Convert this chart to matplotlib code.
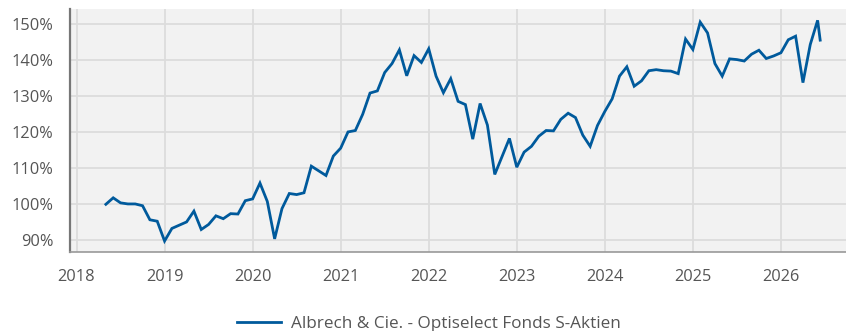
import matplotlib
matplotlib.use("Agg")
import matplotlib.pyplot as plt
from matplotlib.ticker import FuncFormatter

plt.rcParams['font.family'] = ['Open Sans', 'DejaVu Sans']

# monthly performance, starting May 2018 (indexed to 100%)
start_year = 2018
start_month = 5
values = [
    100.0, 101.8, 100.4, 100.1, 100.1, 99.6, 95.7, 95.3, 89.8, 93.3,
    94.2, 95.1, 98.1, 93.0, 94.4, 96.8, 96.0, 97.4, 97.3, 101.0,
    101.5, 105.9, 100.8, 90.4, 98.8, 103.0, 102.7, 103.2, 110.6, 109.3,
    108.0, 113.4, 115.6, 120.1, 120.5, 125.0, 130.9, 131.5, 136.6, 139.1,
    142.9, 135.7, 141.3, 139.4, 143.2, 135.6, 131.0, 134.9, 128.6, 127.7,
    118.1, 128.0, 122.0, 108.3, 113.3, 118.3, 110.3, 114.5, 116.1, 118.9,
    120.5, 120.4, 123.6, 125.3, 124.1, 119.2, 116.1, 121.9, 125.8, 129.3,
    135.6, 138.2, 132.8, 134.3, 137.1, 137.4, 137.1, 137.0, 136.3, 145.9,
    143.0, 150.6, 147.6, 139.1, 135.6, 140.4, 140.2, 139.8, 141.7, 142.8,
    140.5, 141.2, 142.1, 145.7, 146.7, 133.8, 144.4, 151.1,
]
last_value = 145.6
last_offset = 0.35  # latest quote is part way into the month

years = [start_year + (start_month - 1 + i) / 12 for i in range(len(values))]
years.append(years[-1] + last_offset / 12)
values.append(last_value)

year_ticks = list(range(2018, 2027))
pct_ticks = [90, 100, 110, 120, 130, 140, 150]
series_name = "Albrech & Cie. - Optiselect Fonds S-Aktien"

fig = plt.figure(figsize=(8.46, 3.31), dpi=100)
ax = fig.add_axes([70 / 846, 79 / 331, 776 / 846, 243 / 331])
ax.set_facecolor("#f2f2f2")

ax.plot(years, values, color="#005a9c", linewidth=2.0, label=series_name,
        solid_joinstyle="miter")

ax.set_xlim(2017.926, 2026.739)
ax.set_ylim(86.75, 154.25)
ax.set_xticks(year_ticks)
ax.set_yticks(pct_ticks)
ax.yaxis.set_major_formatter(FuncFormatter(lambda v, p: f"{v:.0f}%"))

ax.grid(True, color="#dcdcdc", linewidth=1.3)
ax.set_axisbelow(True)
ax.tick_params(length=0, labelsize=11.8, colors="#555555")
ax.tick_params(axis="y", pad=12)
ax.tick_params(axis="x", pad=12)

for side in ["top", "right"]:
    ax.spines[side].set_visible(False)
ax.spines["left"].set_color("#777777")
ax.spines["left"].set_linewidth(1.6)
ax.spines["bottom"].set_color("#999999")
ax.spines["bottom"].set_linewidth(1.2)

fig.legend(loc="lower center", bbox_to_anchor=(0.507, -0.05), frameon=False,
           fontsize=12.3, labelcolor="#555555", handlelength=2.6,
           handletextpad=0.6)

fig.savefig("out.png", dpi=100)
